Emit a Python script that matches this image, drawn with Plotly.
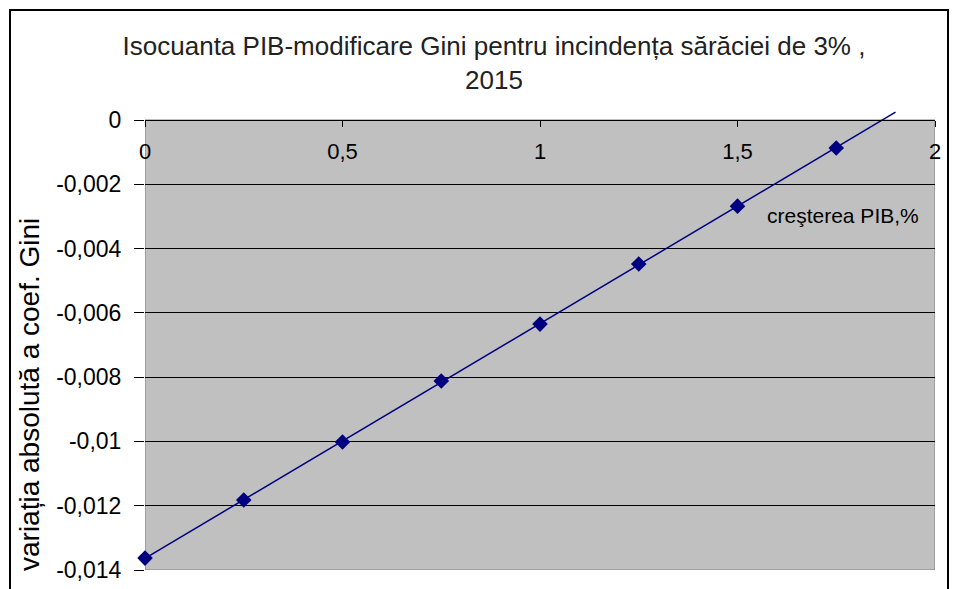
import numpy as np
import plotly.graph_objects as go

# Data
gdp_growth = [0, 0.25, 0.5, 0.75, 1.0, 1.25, 1.5, 1.75]
gini_change = [-0.01363, -0.01182, -0.01002, -0.00812, -0.00635, -0.00448, -0.00268, -0.00087]
trend_end_x = 1.9

x_tick_vals = [0, 0.5, 1, 1.5, 2]
x_tick_labels = ["0", "0,5", "1", "1,5", "2"]
y_tick_vals = [0, -0.002, -0.004, -0.006, -0.008, -0.01, -0.012, -0.014]
y_tick_labels = ["0", "-0,002", "-0,004", "-0,006", "-0,008", "-0,01", "-0,012", "-0,014"]

title_text = "Isocuanta PIB-modificare Gini pentru incindența sărăciei de 3% ,<br>2015"
y_title = "variația absolută a coef. Gini"
x_title = "creşterea PIB,%"

# linear trend (Excel-style trendline with forward forecast)
slope, intercept = np.polyfit(gdp_growth, gini_change, 1)
trend_x = [0, trend_end_x]
trend_y = [intercept + slope * v for v in trend_x]

NAVY = "#000080"
# page body adds an 8px offset, so the figure is laid out 8px smaller
W, H = 950, 581
L, R, T, B = 137, 23, 102, 19
ytop = 0.000311

fig = go.Figure()
fig.add_trace(go.Scatter(x=trend_x, y=trend_y, mode="lines",
                         line=dict(color=NAVY, width=1.5), hoverinfo="skip",
                         showlegend=False))
fig.add_trace(go.Scatter(x=gdp_growth, y=gini_change, mode="markers",
                         marker=dict(symbol="diamond", size=12, color=NAVY),
                         showlegend=False, cliponaxis=False))

plot_h = H - T - B
plot_w = W - L - R
zero_pos = (plot_h - ytop / (0.014 + ytop) * plot_h) / plot_h

shapes = [
    dict(type="rect", xref="x", yref="y", x0=0, x1=2, y0=-0.014, y1=0,
         fillcolor="#C0C0C0", line=dict(color="#808080", width=1), layer="below"),
    dict(type="rect", xref="paper", yref="paper",
         x0=(2 - L) / plot_w, x1=(940 - L) / plot_w,
         y0=(H - B - 600) / plot_h, y1=(H - B - 2) / plot_h,
         line=dict(color="black", width=2), fillcolor="rgba(0,0,0,0)", layer="above"),
]

fig.update_layout(
    width=W, height=H,
    margin=dict(l=L, r=R, t=T, b=B, autoexpand=False),
    paper_bgcolor="white", plot_bgcolor="rgba(0,0,0,0)",
    font=dict(family="Liberation Sans, Arial, sans-serif", color="black"),
    title=dict(text=title_text, xref="container", yref="container",
               x=486 / W, xanchor="center", y=1 - 47 / H, yanchor="top",
               font=dict(size=26, family="Liberation Sans, Arial, sans-serif", color="#222")),
    shapes=shapes,
    xaxis=dict(range=[0, 2], tickvals=x_tick_vals, ticktext=x_tick_labels,
               anchor="free", position=zero_pos, side="bottom",
               showgrid=False, zeroline=False, showline=True, linecolor="black", linewidth=1,
               ticks="outside", ticklen=6, tickcolor="black", ticklabelstandoff=6,
               tickfont=dict(size=22)),
    yaxis=dict(range=[-0.014, ytop], tickvals=y_tick_vals, ticktext=y_tick_labels,
               showgrid=True, gridcolor="black", gridwidth=1, zeroline=False,
               showline=False, ticks="outside", ticklen=10, tickcolor="black",
               ticklabelstandoff=8, tickfont=dict(size=23)),
    annotations=[
        dict(text=x_title, xref="x", yref="y", x=1.767, y=-0.00296,
             xanchor="center", yanchor="middle", showarrow=False,
             font=dict(size=21)),
        dict(text=y_title, xref="paper", yref="paper",
             x=(21 - L) / plot_w, y=(H - B - 387) / plot_h,
             xanchor="center", yanchor="middle", textangle=-90, showarrow=False,
             font=dict(size=28)),
    ],
)

fig.write_html("out.html")
